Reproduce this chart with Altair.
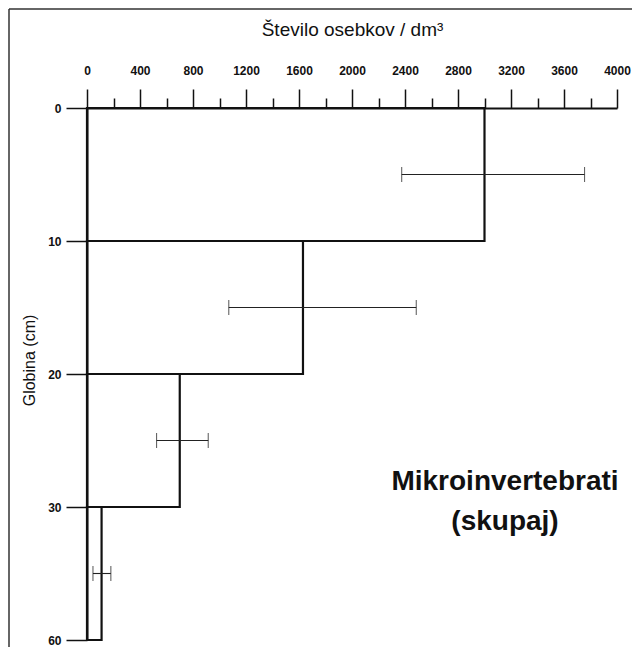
import json
import altair as alt
import pandas as pd

# ---- data ----
depth_labels = ["0", "10", "20", "30", "60"]          # layer boundaries (cm)
layer_mean = [3000, 1630, 700, 110]                   # individuals / dm3
err_low = [2375, 1070, 525, 45]
err_high = [3755, 2485, 915, 180]
major_ticks = list(range(0, 4001, 400))
minor_ticks = list(range(200, 4000, 400))
annotation_line1 = "Mikroinvertebrati"
annotation_line2 = "(skupaj)"

n = len(layer_mean)
df = pd.DataFrame({
    "zero": [0] * n,
    "mean": layer_mean,
    "top": list(range(n)),
    "bottom": [i + 1 for i in range(n)],
    "mid": [i + 0.5 for i in range(n)],
    "lo": err_low,
    "hi": err_high,
})

FONT = "Liberation Sans"
INK = "#111111"

x_scale = alt.Scale(domain=[0, 4000], nice=False, zero=True)
y_scale = alt.Scale(domain=[0, 4], reverse=True, nice=False, zero=True)

x_axis = alt.Axis(
    orient="top",
    values=major_ticks,
    format="d",
    tickSize=19,
    tickWidth=1.5,
    tickColor=INK,
    domainColor=INK,
    domainWidth=2,
    labelFont=FONT,
    labelFontSize=12,
    labelFontWeight="bold",
    labelColor=INK,
    labelPadding=12,
    labelFlush=False,
    labelOverlap=False,
    grid=False,
    title="Število osebkov / dm³",
    titleFont=FONT,
    titleFontSize=19,
    titleFontWeight="normal",
    titleColor=INK,
    titlePadding=25,
)

x_minor_axis = alt.Axis(
    orient="top",
    values=minor_ticks,
    tickSize=10,
    tickWidth=1.5,
    tickColor=INK,
    domain=False,
    labels=False,
    grid=False,
    title=None,
)

y_axis = alt.Axis(
    values=list(range(len(depth_labels))),
    labelExpr=json.dumps(depth_labels) + "[datum.value]",
    tickSize=21,
    tickWidth=1.5,
    tickColor=INK,
    domainColor=INK,
    domainWidth=2,
    labelFont=FONT,
    labelFontSize=12,
    labelFontWeight="bold",
    labelColor=INK,
    labelPadding=5,
    grid=False,
    title="Globina (cm)",
    titleFont=FONT,
    titleFontSize=16,
    titleFontWeight="normal",
    titleColor=INK,
    titleX=-50,
    titleY=252,
)

base = alt.Chart(df)

bars = base.mark_rect(fill="transparent", stroke=INK, strokeWidth=2.2).encode(
    x=alt.X("zero:Q", scale=x_scale, axis=x_axis),
    x2="mean:Q",
    y=alt.Y("top:Q", scale=y_scale, axis=y_axis),
    y2="bottom:Q",
)

err_line = base.mark_rule(color="#222222", strokeWidth=1.1).encode(
    x=alt.X("lo:Q", scale=x_scale, axis=x_minor_axis),
    x2="hi:Q",
    y=alt.Y("mid:Q", scale=y_scale),
)

err_caps = base.transform_fold(["lo", "hi"], as_=["end", "val"]).mark_tick(
    orient="vertical", size=15, thickness=1.1, color="#222222"
).encode(
    x=alt.X("val:Q", scale=x_scale, axis=None),
    y=alt.Y("mid:Q", scale=y_scale),
)

one_row = pd.DataFrame({"k": [0]})

label1 = alt.Chart(one_row).mark_text(
    text=annotation_line1,
    font=FONT,
    fontSize=28,
    fontWeight="bold",
    color=INK,
    align="center",
    baseline="middle",
).encode(x=alt.value(418), y=alt.value(374))

label2 = alt.Chart(one_row).mark_text(
    text=annotation_line2,
    font=FONT,
    fontSize=28,
    fontWeight="bold",
    color=INK,
    align="center",
    baseline="middle",
).encode(x=alt.value(418), y=alt.value(414))

border_left = alt.Chart(one_row).mark_rule(color="#333", strokeWidth=1.5).encode(
    x=alt.value(-78), y=alt.value(-99), y2=alt.value(540)
)
border_top = alt.Chart(one_row).mark_rule(color="#333", strokeWidth=1.5).encode(
    x=alt.value(-78), x2=alt.value(545), y=alt.value(-99)
)

chart = (
    alt.layer(bars, err_line, err_caps, label1, label2, border_left, border_top)
    .resolve_axis(x="independent")
    .properties(
        width=530,
        height=532,
        autosize=alt.AutoSizeParams(type="none"),
        padding={"left": 79, "top": 100, "right": 15, "bottom": 7},
        background="white",
    )
    .configure_view(strokeWidth=0)
)

chart.save("out.html", embed_options={"renderer": "svg", "actions": False})
